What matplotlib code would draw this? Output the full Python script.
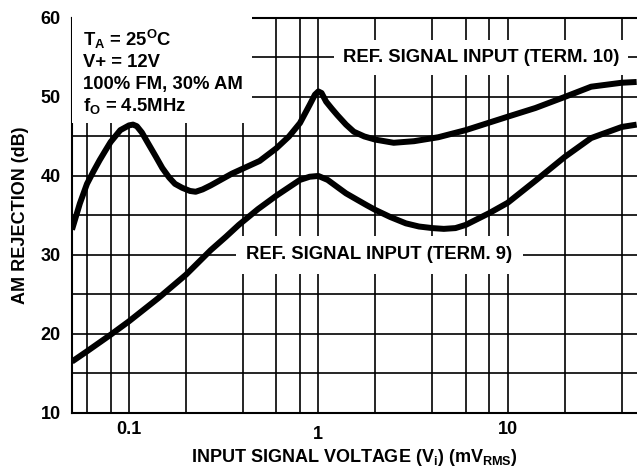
import matplotlib
matplotlib.use("Agg")
import matplotlib.pyplot as plt
from matplotlib.patches import Rectangle

plt.rcParams['font.family'] = ['Liberation Sans', 'DejaVu Sans']
plt.rcParams['font.weight'] = 'bold'
plt.rcParams['mathtext.fontset'] = 'custom'
plt.rcParams['mathtext.rm'] = 'Liberation Sans:bold'
plt.rcParams['mathtext.bf'] = 'Liberation Sans:bold'
plt.rcParams['mathtext.it'] = 'Liberation Sans:bold'
plt.rcParams['mathtext.default'] = 'rm'

# Data: REF. SIGNAL INPUT (TERM. 10)
term10_x = [0.05, 0.055, 0.06, 0.065, 0.07, 0.075, 0.08, 0.09, 0.1, 0.105, 0.11, 0.117,
            0.125, 0.139, 0.15, 0.163, 0.175, 0.191, 0.21, 0.225, 0.245, 0.27, 0.35,
            0.49, 0.6, 0.7, 0.8, 0.9, 0.96, 1.0, 1.04, 1.1, 1.18, 1.26, 1.4, 1.54, 1.75,
            2.0, 2.5, 3.2, 4.3, 6, 10, 14, 20, 27.6, 40, 48]
term10_y = [33.2, 36.5, 39.0, 40.6, 42.0, 43.2, 44.3, 45.8, 46.4, 46.5, 46.3, 45.5,
            44.3, 42.4, 41.0, 39.8, 39.0, 38.5, 38.1, 38.0, 38.3, 38.8, 40.3,
            41.9, 43.5, 45.0, 46.7, 49.0, 50.3, 50.7, 50.5, 49.4, 48.5, 47.7, 46.5, 45.6, 45.0,
            44.6, 44.2, 44.4, 44.9, 45.8, 47.5, 48.6, 50.0, 51.3, 51.8, 51.9]

# Data: REF. SIGNAL INPUT (TERM. 9)
term9_x = [0.05, 0.06, 0.08, 0.1, 0.144, 0.2, 0.27, 0.325, 0.38, 0.48, 0.6, 0.8, 0.9,
           1.0, 1.12, 1.26, 1.4, 1.6, 1.8, 2.0, 2.4, 2.9, 3.4, 4.0, 4.6, 5.3, 6, 8, 10,
           14.2, 20, 27.6, 40, 48]
term9_y = [16.5, 17.8, 19.9, 21.6, 24.6, 27.5, 30.6, 32.3, 33.8, 35.8, 37.5, 39.5, 39.9,
           40.0, 39.5, 38.6, 37.8, 37.0, 36.3, 35.7, 34.8, 34.0, 33.6, 33.4, 33.3, 33.4,
           33.8, 35.3, 36.6, 39.5, 42.4, 44.8, 46.2, 46.5]

x_major = [0.1, 1, 10]
x_major_labels = ['0.1', '1', '10']
x_minor = [0.06, 0.08, 0.2, 0.4, 0.6, 0.8, 2, 4, 6, 8, 20, 40]
y_major = [10, 20, 30, 40, 50, 60]
y_minor = [15, 25, 35, 45, 55]

fig = plt.figure(figsize=(6.37, 4.73), dpi=100)
ax = fig.add_axes([0.113, 0.127, 0.887, 0.835])
ax.set_xscale('log')
ax.set_xlim(0.05, 48.2)
ax.set_ylim(10, 60)

ax.set_xticks(x_major)
ax.set_xticklabels([])
ax.set_xticks(x_minor, minor=True)
ax.set_yticks(y_major)
ax.set_yticklabels([str(v) for v in y_major], fontsize=13, fontweight='bold')
ax.set_yticks(y_minor, minor=True)
ax.tick_params(which='both', length=0)
ax.tick_params(axis='y', pad=8)
ax.xaxis.set_minor_formatter(matplotlib.ticker.NullFormatter())
ax.grid(True, which='both', color='black', linewidth=1.2)
ax.set_axisbelow(True)

for s in ['left', 'bottom', 'top']:
    ax.spines[s].set_linewidth(1.5)
ax.spines['right'].set_visible(False)

# x tick labels (the "1" sits slightly lower in the reference)
offsets = [-0.02, -0.034, -0.02]
for v, lab, off in zip(x_major, x_major_labels, offsets):
    ax.text(v, off, lab, transform=ax.get_xaxis_transform(), ha='center', va='top',
            fontsize=13, fontweight='bold')

ax.plot(term10_x, term10_y, color='black', linewidth=4.3, solid_joinstyle='round',
        solid_capstyle='butt', zorder=5)
ax.plot(term9_x, term9_y, color='black', linewidth=4.3, solid_joinstyle='round',
        solid_capstyle='butt', zorder=5)

# annotation box upper-left
ax.add_patch(Rectangle((0, 0.734), 0.319, 0.27, transform=ax.transAxes,
                       facecolor='white', edgecolor='none', zorder=3, clip_on=False))
ax.text(0.02, 0.945, r'T$_\mathrm{A}$ = 25$^\mathrm{O}$C', transform=ax.transAxes,
        ha='left', va='center', fontsize=13.3, fontweight='bold', zorder=4)
ax.text(0.02, 0.887, 'V+ = 12V', transform=ax.transAxes,
        ha='left', va='center', fontsize=13.3, fontweight='bold', zorder=4)
ax.text(0.02, 0.831, '100% FM, 30% AM', transform=ax.transAxes,
        ha='left', va='center', fontsize=13.3, fontweight='bold', zorder=4)
ax.text(0.02, 0.776, r'f$_\mathrm{O}$ = 4.5MHz', transform=ax.transAxes,
        ha='left', va='center', fontsize=13.3, fontweight='bold', zorder=4)

ax.text(0.724, 55, 'REF. SIGNAL INPUT (TERM. 10)', transform=ax.get_yaxis_transform(),
        ha='center', va='center', fontsize=13.3, fontweight='bold', zorder=4,
        bbox=dict(boxstyle='square,pad=0.5', facecolor='white', edgecolor='none'))
ax.text(0.544, 30, 'REF. SIGNAL INPUT (TERM. 9)', transform=ax.get_yaxis_transform(),
        ha='center', va='center', fontsize=13.3, fontweight='bold', zorder=4,
        bbox=dict(boxstyle='square,pad=0.55', facecolor='white', edgecolor='none'))

ax.set_xlabel(r'INPUT SIGNAL VOLTAGE (V$_\mathrm{i}$) (mV$_\mathrm{RMS}$)',
              fontsize=13, fontweight='bold')
ax.xaxis.set_label_coords(0.5, -0.087)
ax.set_ylabel('AM REJECTION (dB)', fontsize=13, fontweight='bold')
ax.yaxis.set_label_coords(-0.076, 0.5)

fig.savefig('out.png', dpi=100)
